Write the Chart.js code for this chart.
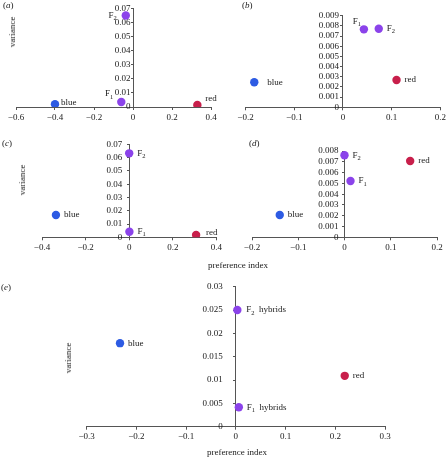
<!DOCTYPE html>
<html lang="en">
  <head>
    <meta charset="utf-8" />
    <title>preference index vs variance</title>
    <style>
      * { margin: 0; padding: 0; }
      body { width: 448px; height: 457px; background: white; position: relative; overflow: hidden;
             font-family: "Liberation Serif", serif; color: #1a1a1a; }
      canvas { position: absolute; }
      .txt { position: absolute; font-size: 9px; white-space: nowrap; transform: translate(-50%, -50%); will-change: transform; }
      .rot { transform: translate(-50%, -50%) rotate(-90deg); }
      .tag { position: absolute; font-size: 9px; }
    </style>
  </head>
  <body>
    <canvas id="pa" width="224" height="125" style="left:0;top:0"></canvas>
    <canvas id="pb" width="224" height="125" style="left:224px;top:0"></canvas>
    <canvas id="pc" width="224" height="130" style="left:0;top:125px"></canvas>
    <canvas id="pd" width="224" height="130" style="left:224px;top:125px"></canvas>
    <canvas id="pe" width="448" height="170" style="left:0;top:275px"></canvas>

    <div class="tag" style="left:3px;top:0">(<i>a</i>)</div>
    <div class="tag" style="left:242px;top:0">(<i>b</i>)</div>
    <div class="tag" style="left:2px;top:138px">(<i>c</i>)</div>
    <div class="tag" style="left:249px;top:138px">(<i>d</i>)</div>
    <div class="tag" style="left:1px;top:282px">(<i>e</i>)</div>

    <div class="txt rot" style="left:12px;top:32px">variance</div>
    <div class="txt rot" style="left:22px;top:180px">variance</div>
    <div class="txt rot" style="left:68px;top:358px">variance</div>
    <div class="txt" style="left:238px;top:265px">preference index</div>
    <div class="txt" style="left:237px;top:452px">preference index</div>

    <script src="https://cdn.jsdelivr.net/npm/chart.js@4.4.1/dist/chart.umd.min.js"></script>
    <script>
      // data block
      const groups = ["blue", "F₁", "F₂", "red"];
      const hybridGroups = ["blue", "F₁  hybrids", "F₂  hybrids", "red"];

      const aX = [-0.4, -0.06, -0.037, 0.33];
      const aY = [0.002, 0.0036, 0.065, 0.0014];
      const bX = [-0.182, 0.043, 0.0735, 0.11];
      const bY = [0.00246, 0.00766, 0.00772, 0.00268];
      const cX = [-0.336, 0.001, 0, 0.307];
      const cY = [0.0168, 0.0042, 0.0632, 0.0017];
      const dX = [-0.14, 0.013, 0, 0.142];
      const dY = [0.00207, 0.00522, 0.0076, 0.00707];
      const eX = [-0.233, 0.006, 0.003, 0.219];
      const eY = [0.0179, 0.00416, 0.025, 0.0109];

      // tick labels
      const aXTicks = [-0.6, -0.4, -0.2, 0, 0.2, 0.4];
      const aYTicks = [0, 0.01, 0.02, 0.03, 0.04, 0.05, 0.06, 0.07];
      const bXTicks = [-0.2, -0.1, 0, 0.1, 0.2];
      const bYTicks = [0, 0.001, 0.002, 0.003, 0.004, 0.005, 0.006, 0.007, 0.008, 0.009];
      const cXTicks = [-0.4, -0.2, 0, 0.2, 0.4];
      const cYTicks = [0, 0.01, 0.02, 0.03, 0.04, 0.05, 0.06, 0.07];
      const dXTicks = [-0.2, -0.1, 0, 0.1, 0.2];
      const dYTicks = [0, 0.001, 0.002, 0.003, 0.004, 0.005, 0.006, 0.007, 0.008];
      const eXTicks = [-0.3, -0.2, -0.1, 0, 0.1, 0.2, 0.3];
      const eYTicks = [0, 0.005, 0.01, 0.015, 0.02, 0.025, 0.03];

      const dotColors = ["#2d5be3", "#8b43ea", "#8b43ea", "#c81f4b"];
      const ink = "#1a1a1a";
      const axisGrey = "#555";
      const X_AXIS_H = 18;

      // label placement per point: [dx, dy, align]
      const aPlace = [[6, -2, "left"], [-8, -8, "right"], [-9, 0, "right"], [8, -6, "left"]];
      const bPlace = [[13, 0, "left"], [-3, -8, "right"], [8, 0, "left"], [8, 0, "left"]];
      const cPlace = [[8, 0, "left"], [8, 0, "left"], [8, 0, "left"], [10, -2, "left"]];
      const dPlace = [[8, 0, "left"], [8, 0, "left"], [8, 0, "left"], [8, 0, "left"]];
      const ePlace = [[8, 0, "left"], [8, 0, "left"], [9, 0, "left"], [8, 0, "left"]];

      const SUBS = { "₁": "1", "₂": "2" };

      // text with subscript digits, drawn piece by piece
      function drawRich(ctx, text, x, y, align) {
        const parts = [];
        for (const ch of text) {
          const sub = SUBS[ch] !== undefined;
          const last = parts[parts.length - 1];
          if (last && last.sub === sub) last.s += sub ? SUBS[ch] : ch;
          else parts.push({ s: sub ? SUBS[ch] : ch, sub });
        }
        const font = (p) => (p.sub ? "6.5px" : "9px") + ' "Liberation Serif"';
        let total = 0;
        parts.forEach((p) => { ctx.font = font(p); p.w = ctx.measureText(p.s).width; total += p.w; });
        let cx = align === "right" ? x - total : x;
        parts.forEach((p) => {
          ctx.font = font(p);
          ctx.fillText(p.s, cx, p.sub ? y + 3 : y);
          cx += p.w;
        });
      }

      const pointLabels = {
        id: "pointLabels",
        afterDatasetsDraw(chart, args, opts) {
          const { ctx } = chart;
          const meta = chart.getDatasetMeta(0);
          ctx.save();
          ctx.fillStyle = ink;
          ctx.textAlign = "left";
          ctx.textBaseline = "middle";
          meta.data.forEach((pt, i) => {
            const [dx, dy, align] = opts.place[i];
            drawRich(ctx, opts.names[i], pt.x + dx, pt.y + dy, align);
          });
          ctx.restore();
        },
      };

      // the y axis sits inside the plot at x = 0, where Chart.js puts the labels
      // flush against the axis line; push them left by a gap
      const yLabelGap = {
        id: "yLabelGap",
        beforeDraw(chart, args, opts) {
          chart.scales.y.getLabelItems().forEach((it) => {
            it.options.translation[0] -= opts.gap;
          });
        },
      };

      function fmt(v) {
        if (Math.abs(v) < 1e-12) return "0";
        return String(v).replace("-", "−");
      }

      // area = desired chart area inside the canvas
      function makePanel(id, xs, ys, names, place, xTicks, yTicks, area, gap) {
        const canvas = document.getElementById(id);
        const W = canvas.width, H = canvas.height;
        const tickFont = { family: "Liberation Serif", size: 9 };
        return new Chart(canvas, {
          type: "scatter",
          data: {
            datasets: [{
              data: xs.map((x, i) => ({ x, y: ys[i] })),
              backgroundColor: dotColors,
              borderWidth: 0,
              pointRadius: 4.2,
            }],
          },
          options: {
            responsive: false,
            animation: false,
            layout: {
              autoPadding: false,
              padding: { left: area.l, right: W - area.r, top: area.t, bottom: H - area.b - X_AXIS_H },
            },
            plugins: {
              legend: { display: false },
              tooltip: { enabled: false },
              pointLabels: { names, place },
              yLabelGap: { gap },
            },
            scales: {
              x: {
                type: "linear",
                position: "bottom",
                min: xTicks[0],
                max: xTicks[xTicks.length - 1],
                afterBuildTicks: (s) => { s.ticks = xTicks.map((v) => ({ value: v })); },
                afterFit: (s) => { s.height = X_AXIS_H; },
                grid: { drawOnChartArea: false, drawTicks: true, tickLength: 3, color: axisGrey },
                border: { color: axisGrey },
                ticks: { font: tickFont, color: ink, padding: 2, maxRotation: 0, autoSkip: false, callback: fmt },
              },
              y: {
                type: "linear",
                position: { x: 0 },
                min: yTicks[0],
                max: yTicks[yTicks.length - 1],
                afterBuildTicks: (s) => { s.ticks = yTicks.map((v) => ({ value: v })); },
                grid: { drawOnChartArea: false, drawTicks: true, tickLength: 2, color: axisGrey },
                border: { color: axisGrey },
                ticks: { font: tickFont, color: ink, autoSkip: false, callback: fmt },
              },
            },
          },
          plugins: [pointLabels, yLabelGap],
        });
      }

      // init render block
      makePanel("pa", aX, aY, groups, aPlace, aXTicks, aYTicks, { l: 16, r: 211, t: 5, b: 107 }, 2.5);
      makePanel("pb", bX, bY, groups, bPlace, bXTicks, bYTicks, { l: 21.5, r: 218, t: 15.7, b: 107.3 }, 4);
      makePanel("pc", cX, cY, groups, cPlace, cXTicks, cYTicks, { l: 42, r: 219.3, t: 19.3, b: 112.3 }, 7);
      makePanel("pd", dX, dY, groups, dPlace, dXTicks, dYTicks, { l: 28, r: 213, t: 26, b: 112.3 }, 6);
      makePanel("pe", eX, eY, hybridGroups, ePlace, eXTicks, eYTicks, { l: 86.7, r: 385, t: 11.7, b: 151.7 }, 13);
    </script>
  </body>
</html>
